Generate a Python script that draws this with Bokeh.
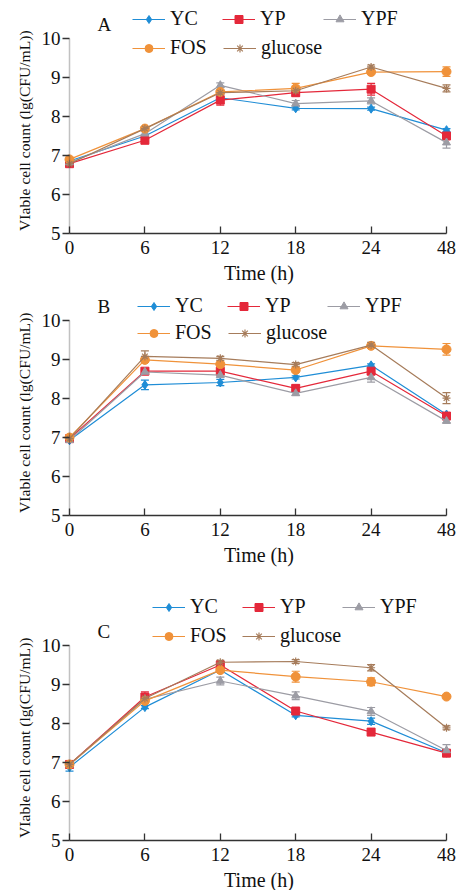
from bokeh.plotting import figure
from bokeh.layouts import column
from bokeh.models import (Range1d, FixedTicker, Whisker, TeeHead, ColumnDataSource,
                          Legend, LegendItem, Label, BoxAnnotation)
from bokeh.embed import file_html
from bokeh.resources import INLINE

# ---------------- data ----------------
times = ["0", "6", "12", "18", "24", "48"]
series = ["YC", "YP", "YPF", "FOS", "glucose"]

A_YC = [6.86, 7.50, 8.48, 8.21, 8.20, 7.65]
A_YP = [6.79, 7.39, 8.42, 8.61, 8.70, 7.50]
A_YPF = [6.82, 7.56, 8.80, 8.33, 8.40, 7.33]
A_FOS = [6.90, 7.69, 8.63, 8.72, 9.14, 9.15]
A_GLU = [6.79, 7.69, 8.61, 8.66, 9.27, 8.72]
A_YC_ERR = [0.05, 0.04, 0.05, 0.04, 0.04, 0.04]
A_YP_ERR = [0.04, 0.04, 0.13, 0.08, 0.15, 0.08]
A_YPF_ERR = [0.05, 0.05, 0.06, 0.08, 0.08, 0.14]
A_FOS_ERR = [0.04, 0.04, 0.04, 0.13, 0.04, 0.12]
A_GLU_ERR = [0.04, 0.04, 0.04, 0.04, 0.05, 0.09]

B_YC = [6.93, 8.35, 8.41, 8.54, 8.85, 7.59]
B_YP = [6.97, 8.70, 8.70, 8.26, 8.70, 7.55]
B_YPF = [6.93, 8.68, 8.60, 8.13, 8.54, 7.42]
B_FOS = [7.00, 8.99, 8.88, 8.73, 9.35, 9.26]
B_GLU = [6.97, 9.08, 9.03, 8.87, 9.37, 8.01]
B_YC_ERR = [0.04, 0.12, 0.08, 0.04, 0.04, 0.05]
B_YP_ERR = [0.04, 0.05, 0.05, 0.08, 0.08, 0.08]
B_YPF_ERR = [0.04, 0.04, 0.05, 0.05, 0.12, 0.04]
B_FOS_ERR = [0.04, 0.04, 0.04, 0.05, 0.04, 0.15]
B_GLU_ERR = [0.04, 0.14, 0.05, 0.05, 0.07, 0.14]

C_YC = [6.88, 8.42, 9.37, 8.21, 8.06, 7.25]
C_YP = [6.95, 8.68, 9.50, 8.32, 7.78, 7.24]
C_YPF = [6.94, 8.62, 9.09, 8.71, 8.31, 7.31]
C_FOS = [6.95, 8.58, 9.37, 9.20, 9.07, 8.69]
C_GLU = [6.95, 8.64, 9.57, 9.59, 9.43, 7.89]
C_YC_ERR = [0.10, 0.04, 0.04, 0.04, 0.08, 0.05]
C_YP_ERR = [0.04, 0.13, 0.06, 0.05, 0.04, 0.08]
C_YPF_ERR = [0.08, 0.06, 0.10, 0.10, 0.10, 0.15]
C_FOS_ERR = [0.04, 0.04, 0.05, 0.14, 0.10, 0.04]
C_GLU_ERR = [0.04, 0.04, 0.05, 0.05, 0.08, 0.05]

y_ticks = [5, 6, 7, 8, 9, 10]
y_title = "VIable cell count (lg(CFU/mL))"
x_title = "Time (h)"

# ---------------- style ----------------
COLORS = {"YC": "#1f8dd6", "YP": "#e4283a", "YPF": "#9c9ca4",
          "FOS": "#f0923a", "glucose": "#a67c5b"}
MARKERS = {"YC": "diamond", "YP": "square", "YPF": "triangle",
           "FOS": "circle", "glucose": "asterisk"}
MSIZE = {"YC": 9, "YP": 8, "YPF": 8, "FOS": 9, "glucose": 8}
FONT = "Liberation Serif"
AXC = "#333333"

PX_X = 75.4          # px per category step
PX_Y = 39.0          # px per y unit
FRAME_W = 393
LEFT = 62
TICK = 7
YLAB_PX = 15.6


def make_panel(letter, vals, errs, top_space, bottom, leg_pos, letter_pos):
    xs = list(range(len(times)))
    pad_l = TICK / PX_X
    x_end = FRAME_W / PX_X - pad_l
    ylo, yhi = y_ticks[0], y_ticks[-1]
    frame_h = int(round((yhi - ylo) * PX_Y + top_space))
    y_top = ylo + frame_h / PX_Y
    p = figure(frame_width=FRAME_W, frame_height=frame_h,
               min_border_left=LEFT, min_border_right=461 - LEFT - FRAME_W,
               min_border_top=0, min_border_bottom=bottom,
               x_range=Range1d(-pad_l, x_end),
               y_range=Range1d(ylo, y_top),
               output_backend="svg", toolbar_location=None,
               outline_line_color=None)
    p.grid.visible = False

    xa = p.xaxis[0]
    xa.bounds = (0, len(times) - 1)
    xa.ticker = FixedTicker(ticks=xs)
    xa.major_label_overrides = {i: t for i, t in enumerate(times)}
    xa.minor_tick_line_color = None
    xa.major_tick_in = 7
    xa.major_tick_out = 0
    xa.major_label_standoff = 7
    xa.axis_label = x_title
    xa.axis_label_standoff = 5

    ya = p.yaxis[0]
    ya.bounds = (ylo, yhi)
    ya.ticker = FixedTicker(ticks=y_ticks)
    ya.axis_line_color = None
    ya.minor_tick_line_color = None
    ya.major_tick_in = TICK
    ya.major_tick_out = 0
    ya.major_label_standoff = 2
    # the frame also holds the legend space above the value 10: pad the
    # rotated title at its top end so that it moves down towards the 5-10 axis
    nb = 0.25 * YLAB_PX
    n_pad = int((top_space - 9) // nb)
    ya.axis_label = y_title + "\u00a0" * n_pad
    ya.axis_label_standoff = 6

    for ax in (xa, ya):
        ax.major_tick_line_color = AXC
        ax.major_tick_line_width = 1.3
        ax.major_label_text_font = FONT
        ax.major_label_text_font_size = "19px"
        ax.major_label_text_color = "#111111"
        ax.axis_label_text_font = FONT
        ax.axis_label_text_font_style = "normal"
        ax.axis_label_text_color = "#111111"
    xa.axis_line_color = AXC
    xa.axis_line_width = 1.5
    xa.axis_label_text_font_size = "20px"
    ya.axis_label_text_font_size = f"{YLAB_PX}px"

    # vertical axis line at the first time point, spanning the tick range
    p.add_layout(BoxAnnotation(left=xs[0], right=xs[0], bottom=ylo, top=yhi,
                               fill_alpha=0, line_color=AXC, line_width=1.5,
                               level="overlay"))

    rends = {}
    for name, v, e in zip(series, vals, errs):
        c = COLORS[name]
        src = ColumnDataSource(dict(x=xs, y=v,
                                    lo=[a - b for a, b in zip(v, e)],
                                    hi=[a + b for a, b in zip(v, e)]))
        w = Whisker(base="x", lower="lo", upper="hi", source=src,
                    line_color=c, line_width=1.2,
                    lower_head=TeeHead(size=8, line_color=c, line_width=1.2),
                    upper_head=TeeHead(size=8, line_color=c, line_width=1.2))
        p.add_layout(w)
        lr = p.line("x", "y", source=src, line_color=c, line_width=1.2)
        sr = p.scatter("x", "y", source=src, marker=MARKERS[name],
                       size=MSIZE[name], fill_color=c, line_color=c,
                       line_width=1.2 if name == "glucose" else 1)
        rends[name] = [lr, sr]

    for name, (vx, vy) in zip(series, leg_pos):
        leg = Legend(items=[LegendItem(label=name, renderers=rends[name])],
                     location=(vx, vy), orientation="horizontal",
                     glyph_width=33, glyph_height=20, label_height=20,
                     label_standoff=5, padding=0, margin=0, spacing=0,
                     border_line_alpha=0, background_fill_alpha=0,
                     label_text_font=FONT, label_text_font_size="20px",
                     label_text_color="#111111")
        p.add_layout(leg, "center")

    p.add_layout(Label(x=letter_pos[0], y=letter_pos[1], x_units="screen",
                       y_units="screen", text=letter, text_font=FONT,
                       text_font_size="19px", text_baseline="middle",
                       text_color="#111111"))
    return p


pA = make_panel("A", [A_YC, A_YP, A_YPF, A_FOS, A_GLU],
                [A_YC_ERR, A_YP_ERR, A_YPF_ERR, A_FOS_ERR, A_GLU_ERR],
                38, 57,
                [(70, 203), (160, 203), (261, 203), (70, 174), (161, 174)],
                (35, 209))
pB = make_panel("B", [B_YC, B_YP, B_YPF, B_FOS, B_GLU],
                [B_YC_ERR, B_YP_ERR, B_YPF_ERR, B_FOS_ERR, B_GLU_ERR],
                30, 61,
                [(75, 198), (165, 198), (265, 198), (75, 171), (166, 171)],
                (35, 209))
pC = make_panel("C", [C_YC, C_YP, C_YPF, C_FOS, C_GLU],
                [C_YC_ERR, C_YP_ERR, C_YPF_ERR, C_FOS_ERR, C_GLU_ERR],
                69, 50,
                [(90, 222), (180, 222), (280, 222), (90, 193), (180, 193)],
                (35, 209))

layout = column(pA, pB, pC, spacing=0)
open("out.html", "w").write(file_html(layout, INLINE))
